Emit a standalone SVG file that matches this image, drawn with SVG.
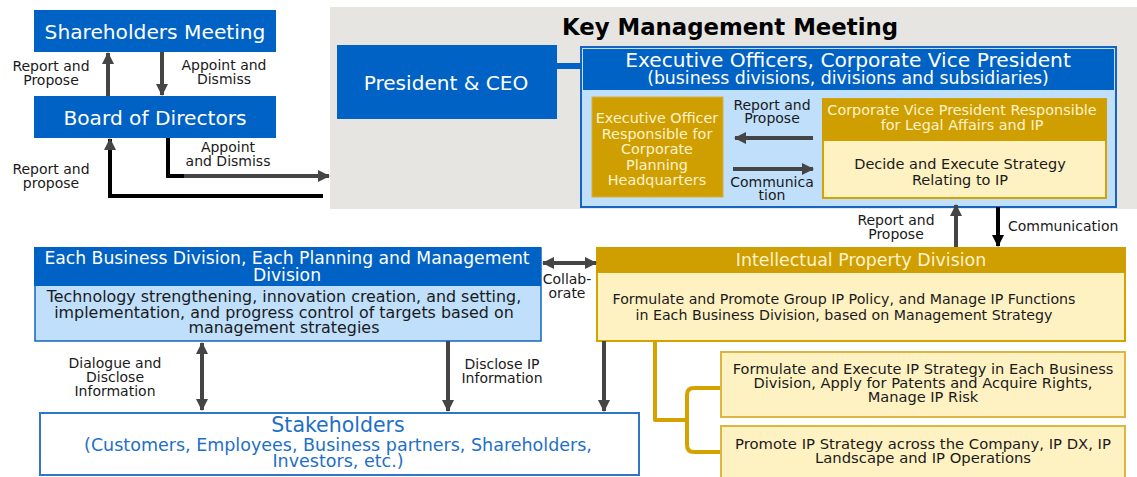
<svg xmlns="http://www.w3.org/2000/svg" width="1137" height="477" viewBox="0 0 1137 477">
<defs>
<style>
text{font-family:"DejaVu Sans","Liberation Sans",sans-serif;text-anchor:middle}
.lbl{font-size:14px;fill:#1a1a1a}
.wt{fill:#ffffff}
.cr{fill:#FFF3CC}
.dk{fill:#1a1a1a}
.blue{fill:#0062C4}
.gl{stroke:#454545;stroke-width:4;fill:none}
.bl{stroke:#000000;stroke-width:4;fill:none}
.br{stroke:#D4A300;stroke-width:4;fill:none;stroke-linejoin:round}
</style>
<marker id="ag" viewBox="0 0 12 12" refX="11" refY="6" markerWidth="12" markerHeight="12" markerUnits="userSpaceOnUse" orient="auto-start-reverse"><path d="M0,0 L12,6 L0,12 Z" fill="#454545"/></marker>
<marker id="ab" viewBox="0 0 12 12" refX="11" refY="6" markerWidth="12" markerHeight="12" markerUnits="userSpaceOnUse" orient="auto-start-reverse"><path d="M0,0 L12,6 L0,12 Z" fill="#000000"/></marker>
</defs>
<rect width="1137" height="477" fill="#ffffff"/>
<rect id="kmm-panel" x="330" y="7" width="807" height="202" fill="#E7E5E2"/>
<text x="730" y="35" style="font-size:22.8px;font-weight:bold;fill:#000">Key Management Meeting</text>

<g id="shareholders">
<rect x="34" y="10" width="242" height="42" class="blue"/>
<text x="155" y="39" class="wt" style="font-size:20.2px">Shareholders Meeting</text>
</g>
<g id="board">
<rect x="34" y="96" width="242" height="42" class="blue"/>
<text x="155" y="125" class="wt" style="font-size:20.2px">Board of Directors</text>
</g>
<g id="ceo">
<rect x="337" y="45" width="220" height="74" class="blue"/>
<text x="446" y="90" class="wt" style="font-size:20.1px">President &amp; CEO</text>
</g>
<g id="exec">
<rect x="581" y="47" width="535" height="160" fill="#BFDFFB" stroke="#1565C0" stroke-width="2"/>
<rect x="583" y="49" width="531" height="41" class="blue"/>
<text x="848" y="67" class="wt" style="font-size:20.2px">Executive Officers, Corporate Vice President</text>
<text x="848" y="84" class="wt" style="font-size:17.3px">(business divisions, divisions and subsidiaries)</text>
</g>
<g id="eo-cph">
<rect x="592" y="97" width="131" height="100" fill="#CF9E00" stroke="#D8B040" stroke-width="1"/>
<text class="cr" style="font-size:14.4px"><tspan x="657" y="123">Executive Officer</tspan><tspan x="657" y="138.5">Responsible for</tspan><tspan x="657" y="154">Corporate</tspan><tspan x="657" y="169.5">Planning</tspan><tspan x="657" y="185">Headquarters</tspan></text>
</g>
<g id="cvp">
<rect x="823" y="99" width="283" height="99" fill="#FFF2C2" stroke="#D4A300" stroke-width="2"/>
<rect x="822" y="99" width="285" height="42" fill="#CF9E00"/>
<text class="cr" style="font-size:14.4px"><tspan x="962" y="115">Corporate Vice President Responsible</tspan><tspan x="962" y="130">for Legal Affairs and IP</tspan></text>
<text class="dk" style="font-size:14.5px"><tspan x="960" y="169">Decide and Execute Strategy</tspan><tspan x="960" y="185">Relating to IP</tspan></text>
</g>
<g id="each-bd">
<rect x="35" y="248" width="506" height="93" fill="#BFDFFB" stroke="#1565C0" stroke-width="1.5"/>
<rect x="34" y="247" width="507" height="39" class="blue"/>
<text class="wt" style="font-size:17.2px"><tspan x="287" y="264">Each Business Division, Each Planning and Management</tspan><tspan x="287" y="281">Division</tspan></text>
<text class="dk" style="font-size:15.9px"><tspan x="284" y="302">Technology strengthening, innovation creation, and setting,</tspan><tspan x="284" y="317.5">implementation, and progress control of targets based on</tspan><tspan x="284" y="333">management strategies</tspan></text>
</g>
<g id="ipd">
<rect x="597" y="248" width="528" height="93" fill="#FFF2C2" stroke="#D4A300" stroke-width="2"/>
<rect x="596" y="247" width="530" height="26" fill="#CF9E00"/>
<text x="861" y="266" class="cr" style="font-size:17.4px">Intellectual Property Division</text>
<text class="dk" style="font-size:14.2px"><tspan x="844" y="304">Formulate and Promote Group IP Policy, and Manage IP Functions</tspan><tspan x="844" y="320">in Each Business Division, based on Management Strategy</tspan></text>
</g>
<g id="ip-strategy">
<rect x="721" y="352" width="404" height="65" fill="#FFF2C2" stroke="#DDB540" stroke-width="2"/>
<text class="dk" style="font-size:14.6px"><tspan x="923" y="374">Formulate and Execute IP Strategy in Each Business</tspan><tspan x="923" y="388">Division, Apply for Patents and Acquire Rights,</tspan><tspan x="923" y="402">Manage IP Risk</tspan></text>
</g>
<g id="ip-dx">
<rect x="721" y="426" width="404" height="55" fill="#FFF2C2" stroke="#DDB540" stroke-width="2"/>
<text class="dk" style="font-size:14.8px"><tspan x="923" y="449">Promote IP Strategy across the Company, IP DX, IP</tspan><tspan x="923" y="463">Landscape and IP Operations</tspan></text>
</g>
<g id="stakeholders">
<rect x="40" y="413" width="599" height="62" fill="#ffffff" stroke="#2F75C8" stroke-width="2"/>
<text x="338" y="432" style="font-size:20.5px;fill:#1E6FC8">Stakeholders</text>
<text style="font-size:17.5px;fill:#1E6FC8"><tspan x="338" y="451">(Customers, Employees, Business partners, Shareholders,</tspan><tspan x="338" y="467">Investors, etc.)</tspan></text>
</g>

<g id="connectors">
<line x1="557" y1="66" x2="581" y2="66" stroke="#0062C4" stroke-width="6"/>
<line x1="108" y1="96" x2="108" y2="53" class="gl" marker-end="url(#ag)"/>
<line x1="162" y1="52" x2="162" y2="95" class="gl" marker-end="url(#ag)"/>
<polyline points="323,196 110,196 110,139" class="bl" marker-end="url(#ag)"/>
<polyline points="168,138 168,176 186,176" class="bl"/>
<line x1="184" y1="176" x2="329" y2="176" class="gl" marker-end="url(#ag)"/>
<line x1="813" y1="138" x2="735" y2="138" class="gl" marker-end="url(#ag)"/>
<line x1="733" y1="169" x2="813" y2="169" class="gl" marker-end="url(#ag)"/>
<line x1="956" y1="247" x2="956" y2="205" class="gl" marker-end="url(#ag)"/>
<line x1="998" y1="207" x2="998" y2="246" class="bl" marker-end="url(#ab)"/>
<line x1="543" y1="263" x2="596" y2="263" class="gl" marker-start="url(#ag)" marker-end="url(#ag)"/>
<line x1="202" y1="343" x2="202" y2="410" class="gl" marker-start="url(#ag)" marker-end="url(#ag)"/>
<line x1="448" y1="341" x2="448" y2="411" class="gl" marker-end="url(#ag)"/>
<line x1="604" y1="341" x2="604" y2="411" class="gl" marker-end="url(#ag)"/>
<polyline points="655,341 655,420 687,420" class="br"/>
<path d="M720,388 L694,388 Q687,388 687,395 L687,445 Q687,452 694,452 L720,452" class="br"/>
</g>

<g id="labels">
<text class="lbl"><tspan x="51" y="71">Report and</tspan><tspan x="51" y="85">Propose</tspan></text>
<text class="lbl"><tspan x="224" y="70">Appoint and</tspan><tspan x="224" y="84">Dismiss</tspan></text>
<text class="lbl"><tspan x="51" y="174">Report and</tspan><tspan x="51" y="188">propose</tspan></text>
<text class="lbl"><tspan x="228" y="152">Appoint</tspan><tspan x="228" y="166">and Dismiss</tspan></text>
<text class="lbl"><tspan x="772" y="110">Report and</tspan><tspan x="772" y="123">Propose</tspan></text>
<text class="lbl"><tspan x="772" y="187">Communica</tspan><tspan x="772" y="200">tion</tspan></text>
<text class="lbl"><tspan x="896" y="225">Report and</tspan><tspan x="896" y="239">Propose</tspan></text>
<text class="lbl" x="1008" y="231" style="text-anchor:start">Communication</text>
<text class="lbl"><tspan x="567" y="284">Collab-</tspan><tspan x="567" y="298">orate</tspan></text>
<text class="lbl"><tspan x="115" y="368">Dialogue and</tspan><tspan x="115" y="382">Disclose</tspan><tspan x="115" y="396">Information</tspan></text>
<text class="lbl"><tspan x="502" y="369">Disclose IP</tspan><tspan x="502" y="383">Information</tspan></text>
</g>
</svg>
